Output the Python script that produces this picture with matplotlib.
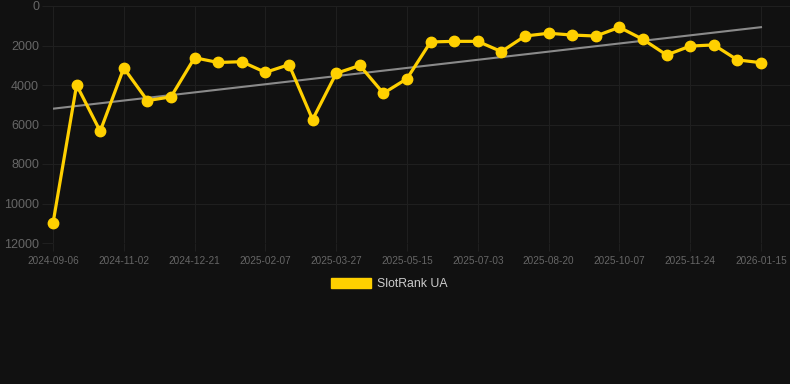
import numpy as np
import matplotlib
matplotlib.use("Agg")
import matplotlib.pyplot as plt
from matplotlib.patches import Patch

BG = "#111111"
GRID = "#1f1f1f"
TICK = "#666666"
LINE = "#ffd000"
TREND = "#8a8a8a"
LEGEND_TEXT = "#cccccc"

# rank per sample (lower is better), one sample every ~16 days
ranks = [11000, 4000, 6340, 3140, 4790, 4600, 2620, 2860, 2820, 3360,
         2970, 5750, 3410, 3010, 4420, 3680, 1820, 1790, 1790, 2310,
         1520, 1380, 1470, 1520, 1080, 1690, 2480, 2030, 1970, 2730, 2870]
tick_labels = ["2024-09-06", "2024-11-02", "2024-12-21", "2025-02-07",
               "2025-03-27", "2025-05-15", "2025-07-03", "2025-08-20",
               "2025-10-07", "2025-11-24", "2026-01-15"]
y_ticks = [0, 2000, 4000, 6000, 8000, 10000, 12000]
series_name = "SlotRank UA"

W, H = 790, 384
fig = plt.figure(figsize=(W / 100, H / 100), dpi=100, facecolor=BG)
left, right, top, bottom = 53, 790, 6, 243
ax = fig.add_axes([left / W, 1 - bottom / H, (right - left) / W, (bottom - top) / H])
ax.set_facecolor(BG)

x = np.arange(len(ranks))
slope, icpt = np.polyfit(x, ranks, 1)
ax.plot(x, slope * x + icpt, color=TREND, lw=1.5, zorder=2)
ax.plot(x, ranks, color=LINE, lw=2.3, marker="o", ms=7.5, zorder=3, clip_on=False)

ax.set_xlim(0, (right - left) / 23.6)
ax.set_ylim(12000, 0)
ax.set_yticks(y_ticks)
ax.set_yticklabels([str(v) for v in y_ticks])
ax.set_xticks(x[::3])
ax.set_xticklabels(tick_labels)

for spine in ax.spines.values():
    spine.set_visible(False)
ax.grid(True, color=GRID, lw=0.8)
ax.set_axisbelow(True)
ax.tick_params(axis="y", colors=GRID, length=8, width=0.8, labelcolor=TICK,
               labelsize=9, pad=2)
ax.tick_params(axis="x", colors=GRID, length=6, width=0.8, labelcolor=TICK,
               labelsize=7.2, pad=3)
for lbl in ax.get_xticklabels() + ax.get_yticklabels():
    lbl.set_fontfamily("Liberation Sans")

handle = Patch(facecolor=LINE, edgecolor=LINE)
leg = fig.legend([handle], [series_name], loc="center", bbox_to_anchor=(0.493, 1 - 284 / H),
                 frameon=False, handlelength=3.3, handleheight=0.85,
                 handletextpad=0.5, prop={"family": "Liberation Sans", "size": 8.8})
for t in leg.get_texts():
    t.set_color(LEGEND_TEXT)

fig.savefig("out.png", dpi=100, facecolor=BG)
